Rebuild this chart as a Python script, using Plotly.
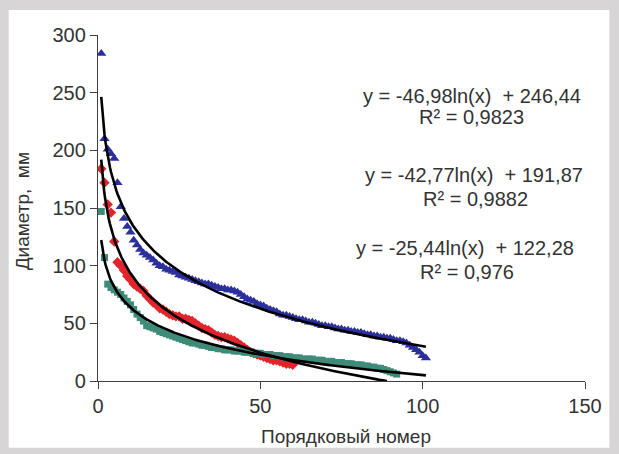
import numpy as np
import plotly.graph_objects as go

# ---- data ----
blue_y = [284, 210, 201, 197, 193, 172, 151, 141, 134, 129, 122, 118, 114, 111, 109, 107, 105, 102, 100, 99,
          97, 96, 95, 94, 92, 91, 90, 89, 88, 87, 86, 85, 84, 84, 83, 82, 81, 80, 80, 79,
          79, 78, 77, 75, 73, 71, 70, 69, 67, 66, 65, 63, 62, 61, 60, 58, 57, 57, 56, 55,
          54, 53, 53, 52, 51, 51, 50, 49, 48, 48, 47, 47, 46, 45, 45, 44, 44, 43, 43, 42,
          42, 41, 40, 40, 39, 39, 38, 38, 37, 37, 36, 35, 35, 34, 33, 31, 29, 27, 25, 22, 20]
red_y = [184, 172, 153, 146, 121, 103, 100, 96, 91, 88, 84, 82, 80, 78, 74, 71, 68, 66, 63, 62,
         60, 58, 57, 56, 56, 54, 54, 53, 52, 50, 48, 46, 45, 44, 42, 40, 39, 38, 38, 37,
         36, 35, 33, 31, 29, 27, 25, 24, 23, 22, 21, 20, 19, 18, 18, 17, 16, 15, 15, 14]
teal_y = [147, 107, 84, 81, 79, 77, 75, 72, 69, 66, 62, 58, 55, 52, 48, 47, 46, 45, 43, 42,
          41, 40, 39, 38, 37, 36, 35, 34, 33, 33, 32, 31, 31, 30, 29, 29, 28, 28, 27, 27,
          27, 26, 26, 26, 25, 25, 25, 24, 24, 24, 23, 23, 23, 22, 22, 22, 21, 21, 21, 20,
          20, 20, 19, 19, 19, 19, 18, 18, 18, 17, 17, 17, 16, 16, 16, 15, 15, 15, 14, 14,
          14, 13, 13, 12, 12, 11, 11, 10, 9, 8, 7, 6]

# trendline coefficients y = a*ln(x) + b, with x-extent of each trendline
trend_a = [-46.98, -42.77, -25.44]
trend_b = [246.44, 191.87, 122.28]
trend_end = [101, 89, 101]
trend_text = ["y = -46,98ln(x)  + 246,44", "y = -42,77ln(x)  + 191,87", "y = -25,44ln(x)  + 122,28"]
r2_text = ["R² = 0,9823", "R² = 0,9882", "R² = 0,976"]

x_ticks = [0, 50, 100, 150]
y_ticks = [0, 50, 100, 150, 200, 250, 300]

FONT = "Liberation Sans, Arial, sans-serif"
TXT = "#333333"
AX = "#404040"
BG = "#d7d5d5"

fig = go.Figure()

series = [
    (blue_y, "#2b2f9c", "triangle-up", 9),
    (red_y, "#e2252c", "diamond", 8),
    (teal_y, "#3e8b79", "square", 7),
]
for ys, col, sym, sz in series:
    fig.add_trace(go.Scatter(
        x=list(range(1, len(ys) + 1)), y=ys, mode="markers",
        marker=dict(symbol=sym, size=sz, color=col, line=dict(width=0)),
        showlegend=False, hoverinfo="skip"))

for a, b, xe in zip(trend_a, trend_b, trend_end):
    xs = np.linspace(1, xe, 300)
    fig.add_trace(go.Scatter(x=xs, y=a * np.log(xs) + b, mode="lines",
                             line=dict(color="black", width=2.6),
                             showlegend=False, hoverinfo="skip"))

# equation labels (paper coords)
eq_pos = [(0.767, 0.824, 0.767, 0.763), (0.772, 0.596, 0.775, 0.526), (0.753, 0.385, 0.757, 0.316)]
annots = []
for (x1, y1, x2, y2), t1, t2 in zip(eq_pos, trend_text, r2_text):
    annots.append(dict(x=x1, y=y1, xref="paper", yref="paper", text=t1, showarrow=False,
                       font=dict(family=FONT, size=20, color=TXT), xanchor="center", yanchor="middle"))
    annots.append(dict(x=x2, y=y2, xref="paper", yref="paper", text=t2, showarrow=False,
                       font=dict(family=FONT, size=20, color=TXT), xanchor="center", yanchor="middle"))
annots.append(dict(x=0.509, y=-0.161, xref="paper", yref="paper", text="Порядковый номер",
                   showarrow=False, font=dict(family=FONT, size=19, color=TXT),
                   xanchor="center", yanchor="middle"))
annots.append(dict(x=-0.155, y=0.489, xref="paper", yref="paper", text="Диаметр,  мм",
                   showarrow=False, textangle=-90, font=dict(family=FONT, size=19, color=TXT),
                   xanchor="center", yanchor="middle"))

fig.update_layout(
    width=619, height=454,
    margin=dict(l=97.5, r=33.5, t=35, b=72.7, autoexpand=False),
    paper_bgcolor=BG, plot_bgcolor="white",
    annotations=annots,
    shapes=[dict(type="rect", xref="paper", yref="paper", x0=-0.1834, x1=1.050, y0=-0.193, y1=1.072,
                 fillcolor="white", line=dict(width=0), layer="below")],
    xaxis=dict(range=[0, 150], tickvals=x_ticks, showgrid=False, zeroline=False,
               showline=True, linecolor=AX, linewidth=1.3, ticks="outside", ticklen=7,
               tickcolor=AX, tickwidth=1.3,
               tickfont=dict(family=FONT, size=20, color=TXT)),
    yaxis=dict(range=[0, 300], tickvals=y_ticks, showgrid=False, zeroline=False,
               showline=True, linecolor=AX, linewidth=1.3, ticks="outside", ticklen=7,
               tickcolor=AX, tickwidth=1.3,
               tickfont=dict(family=FONT, size=20, color=TXT)),
)

fig.write_html("out.html", config={"displayModeBar": False},
               post_script="document.body.style.margin='0';document.body.style.background='%s';" % BG)
